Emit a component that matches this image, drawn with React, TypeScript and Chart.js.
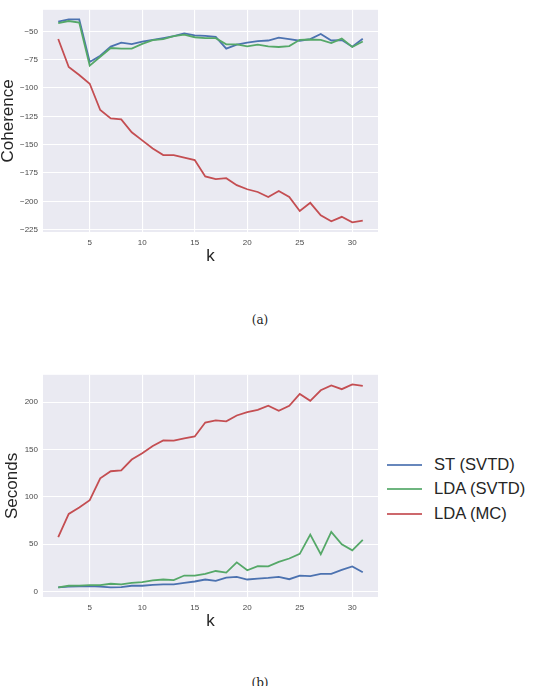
import React, { useEffect, useRef } from "react";
import { Chart, registerables } from "chart.js";

Chart.register(...registerables);

const kValues = [2, 3, 4, 5, 6, 7, 8, 9, 10, 11, 12, 13, 14, 15, 16, 17, 18, 19, 20, 21, 22, 23, 24, 25, 26, 27, 28, 29, 30, 31];

const stCoherence = [-41.5, -39.5, -39.5, -77, -71.5, -63.5, -60, -61.3, -59, -57.5, -56, -54.3, -51.8, -53.5, -54, -54.8, -65.3, -61.8, -60, -58.6, -58.1, -55.5, -56.9, -58.3, -56.9, -52.3, -58.1, -57.7, -63.5, -56.6];
const ldaSvtdCoherence = [-42.8, -40.9, -42.2, -80.2, -72.4, -64.7, -65.3, -65.3, -61, -57.8, -56.9, -54.3, -52.9, -55.2, -56, -56, -61.5, -61.5, -63.3, -61.8, -63.3, -63.8, -63, -57.5, -57.2, -57.5, -60.3, -56.4, -63.8, -59];
const ldaMcCoherence = [-56.8, -81.5, -88.5, -96.2, -119.4, -126.8, -127.6, -139, -146.2, -153.4, -159.1, -159.2, -161.5, -163.6, -178, -180.4, -179.5, -185.7, -189.3, -191.7, -196.1, -190.8, -196.1, -208.5, -201.3, -212.3, -217.5, -213.6, -218.5, -216.9];

const stSeconds = [4.2, 4.9, 5.2, 5.6, 4.9, 4.2, 4.5, 5.9, 5.9, 6.9, 7.3, 7.3, 9, 10.4, 12.5, 11.1, 14.6, 15.3, 12.5, 13.5, 14.2, 15.3, 12.8, 16.7, 16, 18.4, 18.4, 22.6, 26.4, 20.1];
const ldaSvtdSeconds = [4.2, 5.9, 6, 6.6, 6.5, 8, 7.3, 9, 9.7, 11.5, 12.5, 11.8, 16.7, 16.7, 18.4, 21.5, 19.8, 30.6, 22.2, 26.7, 26.4, 31.2, 34.7, 39.6, 60, 39.2, 62.8, 49.7, 43.4, 54.5];
const ldaMcSeconds = [57.2, 81.8, 88.7, 96.4, 119.6, 127, 127.8, 139.4, 146, 153.7, 159.5, 159.3, 161.8, 163.8, 178.5, 180.7, 179.8, 186, 189.5, 191.9, 196.4, 191, 196.2, 208.8, 201.5, 212.6, 217.8, 213.8, 218.8, 217.2];

const seriesNames = ["ST (SVTD)", "LDA (SVTD)", "LDA (MC)"];
const seriesColors = ["#4c72b0", "#55a868", "#c44e52"];

const xTicks = [5, 10, 15, 20, 25, 30];
const coherenceTicks = [-225, -200, -175, -150, -125, -100, -75, -50];
const secondsTicks = [0, 50, 100, 150, 200];

const FONT = "'Liberation Sans', Arial, Helvetica, sans-serif";

const bgPlugin = {
  id: "plotBg",
  beforeDraw(chart: any) {
    const { ctx, chartArea } = chart;
    if (!chartArea) return;
    ctx.save();
    ctx.fillStyle = "#eaeaf2";
    ctx.fillRect(chartArea.left, chartArea.top, chartArea.right - chartArea.left, chartArea.bottom - chartArea.top);
    ctx.restore();
  },
};

function fmt(v: number) {
  return v < 0 ? "\u2212" + Math.abs(v) : String(v);
}

function buildConfig(series: number[][], yTicks: number[], yMin: number, yMax: number, yTitle: string, yTitlePad: number, topPad: number) {
  return {
    type: "line",
    data: {
      datasets: series.map((vals, i) => ({
        label: seriesNames[i],
        data: kValues.map((k, j) => ({ x: k, y: vals[j] })),
        borderColor: seriesColors[i],
        backgroundColor: seriesColors[i],
        borderWidth: 1.8,
        pointRadius: 0,
        tension: 0,
        order: 2 - i,
      })),
    },
    options: {
      responsive: false,
      animation: false,
      layout: { padding: { top: topPad, right: 7, left: 0, bottom: 0 } },
      plugins: { legend: { display: false }, tooltip: { enabled: false } },
      scales: {
        x: {
          type: "linear",
          min: 0.55,
          max: 32.45,
          afterFit: (s: any) => { s.height = 33; },
          afterBuildTicks: (s: any) => { s.ticks = xTicks.map((v) => ({ value: v })); },
          border: { display: false },
          grid: { color: "#ffffff", lineWidth: 1.1, drawTicks: false },
          ticks: { padding: 6, color: "#4a4a4a", font: { family: FONT, size: 8 }, callback: (v: number) => fmt(v) },
          title: { display: true, text: "k", color: "#262626", font: { family: FONT, size: 17, lineHeight: 1 }, padding: { top: 0, bottom: 0 } },
        },
        y: {
          type: "linear",
          min: yMin,
          max: yMax,
          afterFit: (s: any) => { s.width = 43; },
          afterBuildTicks: (s: any) => { s.ticks = yTicks.map((v) => ({ value: v })); },
          border: { display: false },
          grid: { color: "#ffffff", lineWidth: 1.1, drawTicks: false },
          ticks: { padding: 5, color: "#4a4a4a", font: { family: FONT, size: 8 }, callback: (v: number) => fmt(v) },
          title: { display: true, text: yTitle, color: "#262626", font: { family: FONT, size: 17, lineHeight: 1 }, padding: { top: yTitlePad, bottom: 0 } },
        },
      },
    },
    plugins: [bgPlugin],
  };
}

function LineChart(props: { config: any; width: number; height: number; left: number; top: number }) {
  const ref = useRef<HTMLCanvasElement | null>(null);
  useEffect(() => {
    if (!ref.current) return;
    const chart = new Chart(ref.current, props.config);
    return () => chart.destroy();
  }, []);
  return (
    <canvas
      ref={ref}
      width={props.width}
      height={props.height}
      style={{ position: "absolute", left: props.left, top: props.top, width: props.width, height: props.height }}
    />
  );
}

export default function App() {
  const topConfig = buildConfig([stCoherence, ldaSvtdCoherence, ldaMcCoherence], coherenceTicks, -227, -31, "Coherence", 0, 5);
  const bottomConfig = buildConfig([stSeconds, ldaSvtdSeconds, ldaMcSeconds], secondsTicks, -6, 229, "Seconds", 4, 6);
  const legendRows = [465, 489, 514];
  return (
    <div style={{ position: "absolute", left: 0, top: 0, width: 533, height: 686, overflow: "hidden", background: "#ffffff" }}>
      <LineChart config={topConfig} width={385} height={265} left={0} top={0} />
      <LineChart config={bottomConfig} width={385} height={265} left={0} top={365} />
      {seriesNames.map((name, i) => (
        <React.Fragment key={name}>
          <div style={{ position: "absolute", left: 387, top: legendRows[i] - 1, width: 35, height: 2, background: seriesColors[i], opacity: 0.85 }} />
          <div style={{ position: "absolute", left: 434, top: legendRows[i] - 12, height: 24, fontFamily: FONT, fontSize: 16.6, color: "#262626", whiteSpace: "nowrap", lineHeight: "24px" }}>{name}</div>
        </React.Fragment>
      ))}
      <div style={{ position: "absolute", left: 210, width: 100, top: 312, textAlign: "center", fontFamily: "'DejaVu Serif', 'Liberation Serif', serif", fontSize: 12, lineHeight: "16px", color: "#222" }}>(a)</div>
      <div style={{ position: "absolute", left: 210, width: 100, top: 675, textAlign: "center", fontFamily: "'DejaVu Serif', 'Liberation Serif', serif", fontSize: 12, lineHeight: "16px", color: "#222" }}>(b)</div>
    </div>
  );
}
